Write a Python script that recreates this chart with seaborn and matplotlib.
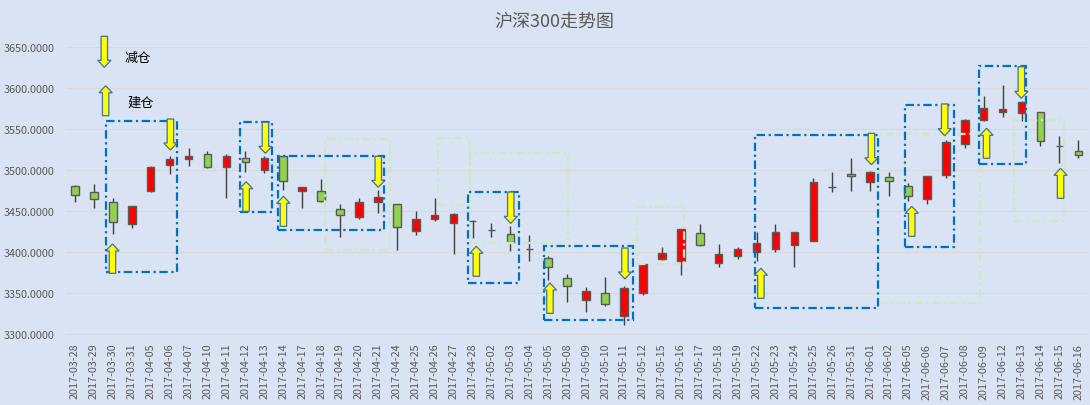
import matplotlib
matplotlib.use("Agg")
import matplotlib.pyplot as plt
import seaborn as sns
import numpy as np
from matplotlib.patches import Rectangle, FancyArrow

# ---------------- data ----------------
dates = ["2017-03-28", "2017-03-29", "2017-03-30", "2017-03-31", "2017-04-05", "2017-04-06",
         "2017-04-07", "2017-04-10", "2017-04-11", "2017-04-12", "2017-04-13", "2017-04-14",
         "2017-04-17", "2017-04-18", "2017-04-19", "2017-04-20", "2017-04-21", "2017-04-24",
         "2017-04-25", "2017-04-26", "2017-04-27", "2017-04-28", "2017-05-02", "2017-05-03",
         "2017-05-04", "2017-05-05", "2017-05-08", "2017-05-09", "2017-05-10", "2017-05-11",
         "2017-05-12", "2017-05-15", "2017-05-16", "2017-05-17", "2017-05-18", "2017-05-19",
         "2017-05-22", "2017-05-23", "2017-05-24", "2017-05-25", "2017-05-26", "2017-05-31",
         "2017-06-01", "2017-06-02", "2017-06-05", "2017-06-06", "2017-06-07", "2017-06-08",
         "2017-06-09", "2017-06-12", "2017-06-13", "2017-06-14", "2017-06-15", "2017-06-16"]

open_ = [3480.1, 3472.8, 3460.6, 3433.9, 3474.8, 3506.4, 3513.7, 3519.1, 3503.2, 3514.2,
         3499.6, 3516.6, 3474.8, 3474.0, 3452.1, 3443.1, 3460.6, 3458.2, 3426.1, 3440.0,
         3435.1, 3437.6, 3427.1, 3421.7, 3403.6, 3392.5, 3368.2, 3341.4, 3349.9, 3321.9,
         3349.9, 3391.3, 3389.6, 3422.9, 3387.1, 3394.9, 3399.8, 3404.2, 3409.0, 3413.2,
         3479.4, 3494.7, 3485.0, 3491.1, 3480.1, 3464.3, 3493.5, 3531.2, 3560.4, 3570.2,
         3569.0, 3570.2, 3529.3, 3522.7]
high = [3482.1, 3482.6, 3466.2, 3456.0, 3504.8, 3516.6, 3526.4, 3522.7, 3519.4, 3522.7,
        3517.4, 3517.0, 3479.6, 3488.6, 3458.2, 3465.5, 3475.2, 3458.5, 3449.7, 3465.5,
        3448.0, 3439.5, 3435.8, 3431.4, 3420.5, 3394.9, 3373.4, 3357.2, 3369.4, 3358.8,
        3386.8, 3405.9, 3428.0, 3433.9, 3409.5, 3405.9, 3424.1, 3433.9, 3424.3, 3489.9,
        3497.2, 3514.2, 3499.1, 3497.2, 3483.8, 3492.5, 3536.1, 3562.0, 3590.4, 3603.4,
        3584.3, 3570.4, 3541.7, 3536.1]
low = [3460.6, 3454.1, 3421.7, 3429.7, 3473.5, 3494.7, 3505.2, 3502.0, 3465.5, 3497.2,
       3495.9, 3476.0, 3453.3, 3460.6, 3418.0, 3440.3, 3448.0, 3403.0, 3421.2, 3437.9,
       3398.1, 3416.8, 3418.0, 3401.7, 3389.6, 3366.1, 3338.9, 3326.8, 3334.8, 3311.7,
       3348.2, 3390.4, 3372.5, 3407.1, 3382.3, 3391.3, 3389.6, 3400.5, 3382.3, 3413.0,
       3472.8, 3474.0, 3474.8, 3468.7, 3461.9, 3458.9, 3490.6, 3527.1, 3559.6, 3564.8,
       3559.2, 3529.5, 3508.1, 3514.2]
close = [3469.2, 3464.3, 3436.3, 3455.8, 3503.2, 3513.0, 3516.6, 3504.0, 3516.6, 3509.3,
         3514.2, 3486.2, 3478.9, 3461.9, 3444.8, 3460.6, 3466.7, 3430.2, 3440.0, 3444.8,
         3446.0, 3437.9, 3427.3, 3412.0, 3403.8, 3381.5, 3358.4, 3352.3, 3336.5, 3356.0,
         3385.2, 3398.6, 3427.8, 3409.0, 3397.4, 3403.4, 3410.7, 3424.1, 3424.1, 3485.0,
         3479.6, 3492.3, 3497.2, 3486.2, 3467.9, 3492.3, 3533.7, 3560.4, 3575.8, 3573.8,
         3582.3, 3534.9, 3529.5, 3517.8]

y_ticks = [3300, 3350, 3400, 3450, 3500, 3550, 3600, 3650]
title = "沪深300走势图"

# annotation boxes: (x0, x1, y0, y1) in category index / index value
blue_boxes = [(1.62, 5.38, 3376.2, 3559.8), (8.74, 10.43, 3449.1, 3558.6),
              (10.75, 16.31, 3427.1, 3517.3), (20.75, 23.43, 3362.8, 3473.1),
              (24.80, 29.45, 3317.8, 3407.8), (35.94, 42.43, 3332.4, 3542.4),
              (43.85, 46.44, 3406.2, 3578.9), (47.76, 50.22, 3507.2, 3626.8)]
green_boxes = [(13.19, 16.62, 3402.9, 3537.6), (19.17, 20.84, 3457.3, 3538.4),
               (20.88, 26.03, 3411.1, 3520.2), (29.67, 32.15, 3385.9, 3454.5),
               (42.48, 47.81, 3338.1, 3544.0), (49.60, 52.24, 3438.2, 3561.1)]
# arrows: (x, y_bottom, y_top)
up_arrows = [(1.98, 3374.2, 3409.9), (9.04, 3449.6, 3485.6), (11.01, 3431.4, 3467.9),
             (21.20, 3370.6, 3407.1), (25.09, 3325.5, 3362.4), (36.23, 3343.8, 3380.3),
             (44.20, 3419.2, 3455.7), (48.15, 3514.1, 3550.6), (52.06, 3465.4, 3501.9)]
down_arrows = [(5.04, 3524.2, 3561.9), (10.06, 3520.2, 3557.9), (16.02, 3478.8, 3516.5),
               (23.02, 3435.0, 3473.1), (29.05, 3367.3, 3405.0), (42.07, 3506.3, 3544.5),
               (45.94, 3541.6, 3580.2), (49.99, 3587.1, 3625.5)]
legend_down = (1.55, 3624.8, 3662.5)
legend_up = (1.62, 3565.9, 3602.4)
legend_labels = ["减仓", "建仓"]

# ---------------- style ----------------
BG = "#DAE3F3"
GRID = "#D9D9D9"
sns.set_theme(style="whitegrid", rc={"axes.facecolor": BG, "figure.facecolor": BG,
                                     "grid.color": GRID, "grid.linewidth": 0.8})
plt.rcParams["font.family"] = ["Noto Sans CJK SC", "DejaVu Sans"]

fig = plt.figure(figsize=(10.9, 4.06), dpi=100)
ax = fig.add_axes([0.0601, 0.1741, 0.9379, 0.7087])
ax.set_facecolor(BG)

x = np.arange(len(dates))
o = np.array(open_); c = np.array(close); h = np.array(high); l = np.array(low)
up = c >= o
colors = np.where(up, "#FF0000", "#92D050")

ax.vlines(x, l, h, color="#404040", linewidth=1.0, zorder=2)
ax.bar(x, c - o, bottom=o, width=0.4, color=colors, edgecolor="#595959",
       linewidth=1.0, zorder=3)

dash = (0, (3.8, 1.6, 1.0, 1.6))
for (x0, x1, y0, y1) in green_boxes:
    ax.add_patch(Rectangle((x0, y0), x1 - x0, y1 - y0, fill=False, edgecolor="#CDE8C4",
                           linewidth=1.6, linestyle=dash, zorder=4))
for (x0, x1, y0, y1) in blue_boxes:
    ax.add_patch(Rectangle((x0, y0), x1 - x0, y1 - y0, fill=False, edgecolor="#0070C0",
                           linewidth=1.6, linestyle=dash, zorder=4))

def arrow(xc, yb, yt, direction):
    if direction == "up":
        a = FancyArrow(xc, yb, 0, yt - yb, width=0.34, head_width=0.70, head_length=8.5,
                       length_includes_head=True)
    else:
        a = FancyArrow(xc, yt, 0, yb - yt, width=0.34, head_width=0.70, head_length=8.5,
                       length_includes_head=True)
    a.set_facecolor("#FFFF00"); a.set_edgecolor("#41719C"); a.set_linewidth(0.9)
    a.set_zorder(5); a.set_clip_on(False)
    ax.add_patch(a)

for a in up_arrows:
    arrow(*a, "up")
for a in down_arrows:
    arrow(*a, "down")
arrow(*legend_down, "down")
arrow(*legend_up, "up")
ax.text(2.62, 3636.5, legend_labels[0], fontsize=9.5, color="black", va="center", ha="left", zorder=6)
ax.text(2.76, 3582.0, legend_labels[1], fontsize=9.5, color="black", va="center", ha="left", zorder=6)

ax.set_xlim(-0.5, len(dates) - 0.5)
ax.set_ylim(y_ticks[0], y_ticks[-1])
ax.set_yticks(y_ticks)
ax.set_yticklabels([f"{v:.4f}" for v in y_ticks], fontsize=7.8, color="#595959")
ax.set_xticks(x)
ax.set_xticklabels(dates, rotation=90, fontsize=7.8, color="#595959")
ax.set_xticks(np.arange(-0.5, len(dates), 3), minor=True)
ax.tick_params(axis="x", which="major", length=0, pad=6)
ax.tick_params(axis="x", which="minor", length=4, color=GRID, width=0.8)
ax.tick_params(axis="y", length=0, pad=8)
ax.grid(axis="x", which="both", visible=False)
ax.grid(axis="y", color=GRID, linewidth=0.8)
ax.set_axisbelow(True)
for s in ["top", "right", "left"]:
    ax.spines[s].set_visible(False)
ax.spines["bottom"].set_color(GRID)
ax.spines["bottom"].set_linewidth(0.8)

fig.text(0.509, 0.9466, title, ha="center", va="center", fontsize=13, color="#595959")

fig.savefig("out.png", dpi=100, facecolor=BG)
